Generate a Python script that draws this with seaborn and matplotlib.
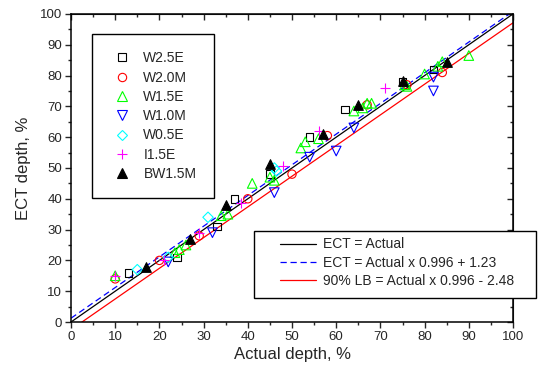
import matplotlib
matplotlib.use("Agg")
import matplotlib.pyplot as plt
from matplotlib.lines import Line2D
from matplotlib.patches import Rectangle
from matplotlib.legend_handler import HandlerLine2D
import seaborn as sns
import numpy as np

# data
w25e_x = [13, 24, 33, 37, 45, 54, 62, 75, 82]
w25e_y = [16, 21, 31, 40, 48, 60, 69, 78, 82]

w20m_x = [10, 20, 29, 40, 50, 58, 67, 76, 84]
w20m_y = [14, 20, 28, 40, 48, 60.5, 70.5, 77, 81]

w15e_x = [10, 23.5, 24.5, 26, 34, 35.5, 41, 45, 46, 52, 53, 56, 64, 66, 67, 68, 75.5, 76, 80, 83, 84, 90]
w15e_y = [15, 22.5, 23.5, 25, 34.5, 35, 45, 47, 46, 56.5, 58.5, 59.5, 68.5, 69.5, 71, 71, 77, 76.5, 80.5, 83, 84.5, 86.5]

w10m_x = [22, 32, 46, 54, 60, 64, 82, 82]
w10m_y = [19.5, 29, 42, 53.5, 55.5, 63, 79.5, 75]

w05e_x = [15, 22, 31, 46, 46.5]
w05e_y = [17, 21, 34, 50, 49]

i15e_x = [10, 21, 29, 38.5, 48, 56, 71]
i15e_y = [15, 20, 29, 38.5, 50.5, 62, 76]

bw15m_x = [17, 27, 35, 45, 57, 65, 75, 85]
bw15m_y = [18, 27, 38, 51.3, 61, 70.5, 78.3, 84.3]

# fit lines: slope, intercept
line_labels = ["ECT = Actual", "ECT = Actual x 0.996 + 1.23", "90% LB = Actual x 0.996 - 2.48"]
line_slopes = [1.0, 0.996, 0.996]
line_intercepts = [0.0, 1.23, -2.48]

sns.set_style("ticks")
plt.rcParams["font.family"] = ["Liberation Sans", "DejaVu Sans"]

fig = plt.figure(figsize=(5.42, 3.74), dpi=100)
ax = fig.add_axes([0.131, 0.139, 0.8155, 0.8237])

series = [
    ("W2.5E", w25e_x, w25e_y, "s", "black", False, 30),
    ("W2.0M", w20m_x, w20m_y, "o", "red", False, 36),
    ("W1.5E", w15e_x, w15e_y, "^", "#00ff00", False, 48),
    ("W1.0M", w10m_x, w10m_y, "v", "blue", False, 48),
    ("W0.5E", w05e_x, w05e_y, "D", "cyan", False, 28),
    ("I1.5E", i15e_x, i15e_y, "+", "magenta", None, 50),
    ("BW1.5M", bw15m_x, bw15m_y, "^", "black", True, 48),
]

handles1 = []
for name, xs, ys, mk, col, filled, size in series:
    if filled is None:
        sns.scatterplot(x=xs, y=ys, marker=mk, s=size, color=col, linewidth=0.8, ax=ax, zorder=3)
    elif filled:
        sns.scatterplot(x=xs, y=ys, marker=mk, s=size, color=col, edgecolor=col, linewidth=0.8, ax=ax, zorder=3)
    else:
        sns.scatterplot(x=xs, y=ys, marker=mk, s=size, facecolors="none", edgecolor=col, linewidth=0.8, ax=ax, zorder=3)
    handles1.append(Line2D([], [], linestyle="none", marker=mk, markersize=np.sqrt(size),
                           markerfacecolor=(col if filled else "none"), markeredgecolor=col,
                           markeredgewidth=0.8, label=name))

xline = np.array([0, 100])
line_styles = [("black", "-"), ("blue", (0, (5, 3))), ("red", "-")]
handles2 = []
for lab, m, b, (col, ls) in zip(line_labels, line_slopes, line_intercepts, line_styles):
    sns.lineplot(x=xline, y=m * xline + b, color=col, linestyle=ls, linewidth=0.9, ax=ax, zorder=2)
    handles2.append(Line2D([], [], color=col, linestyle=ls, linewidth=0.9, label=lab))

ax.set_xlim(0, 100)
ax.set_ylim(0, 100)
ax.set_xticks(np.arange(0, 101, 10))
ax.set_yticks(np.arange(0, 101, 10))
ax.set_xticks(np.arange(0, 101, 5), minor=True)
ax.set_yticks(np.arange(0, 101, 5), minor=True)
ax.tick_params(which="major", length=4.5, width=1, labelsize=9.5, direction="out", pad=2)
ax.tick_params(which="minor", length=2.5, width=1, direction="out")
for s in ax.spines.values():
    s.set_visible(True)
    s.set_linewidth(1.1)
    s.set_color("black")

top = ax.secondary_xaxis("top")
top.set_xticks(np.arange(0, 101, 10))
top.set_xticks(np.arange(0, 101, 5), minor=True)
top.tick_params(which="both", direction="in", labeltop=False, width=1)
top.tick_params(which="major", length=4)
top.tick_params(which="minor", length=2.5)
right = ax.secondary_yaxis("right")
right.set_yticks(np.arange(0, 101, 10))
right.set_yticks(np.arange(0, 101, 5), minor=True)
right.tick_params(which="both", direction="in", labelright=False, width=1)
right.tick_params(which="major", length=4)
right.tick_params(which="minor", length=2.5)

ax.set_xlabel("Actual depth, %", fontsize=12, labelpad=3)
ax.set_ylabel("ECT depth, %", fontsize=12, labelpad=6)

leg1 = ax.legend(handles=handles1, loc="upper left", bbox_to_anchor=(0.0475, 0.935),
                 fontsize=10, frameon=True, fancybox=False, framealpha=1, edgecolor="black",
                 borderpad=1.25, labelspacing=0.38, handlelength=1.8, handletextpad=0.65,
                 borderaxespad=0)
leg1.get_frame().set_linewidth(1)
ax.add_artist(leg1)

# frame for the second legend drawn separately (it sticks out past the axes)
box2 = Rectangle((0.414, 0.078), 1.053 - 0.414, 0.295 - 0.078, transform=ax.transAxes,
                 facecolor="white", edgecolor="black", linewidth=1, clip_on=False, zorder=4)
ax.add_patch(box2)
leg2 = ax.legend(handles=handles2, loc="upper left", bbox_to_anchor=(0.414, 0.295),
                 fontsize=10, frameon=False, labelspacing=0.3, handlelength=4.0, handletextpad=0.5,
                 borderpad=0.45, borderaxespad=0, handler_map={Line2D: HandlerLine2D(xpad=1.4)})
leg2.set_zorder(5)

fig.savefig("out.png", dpi=100)
